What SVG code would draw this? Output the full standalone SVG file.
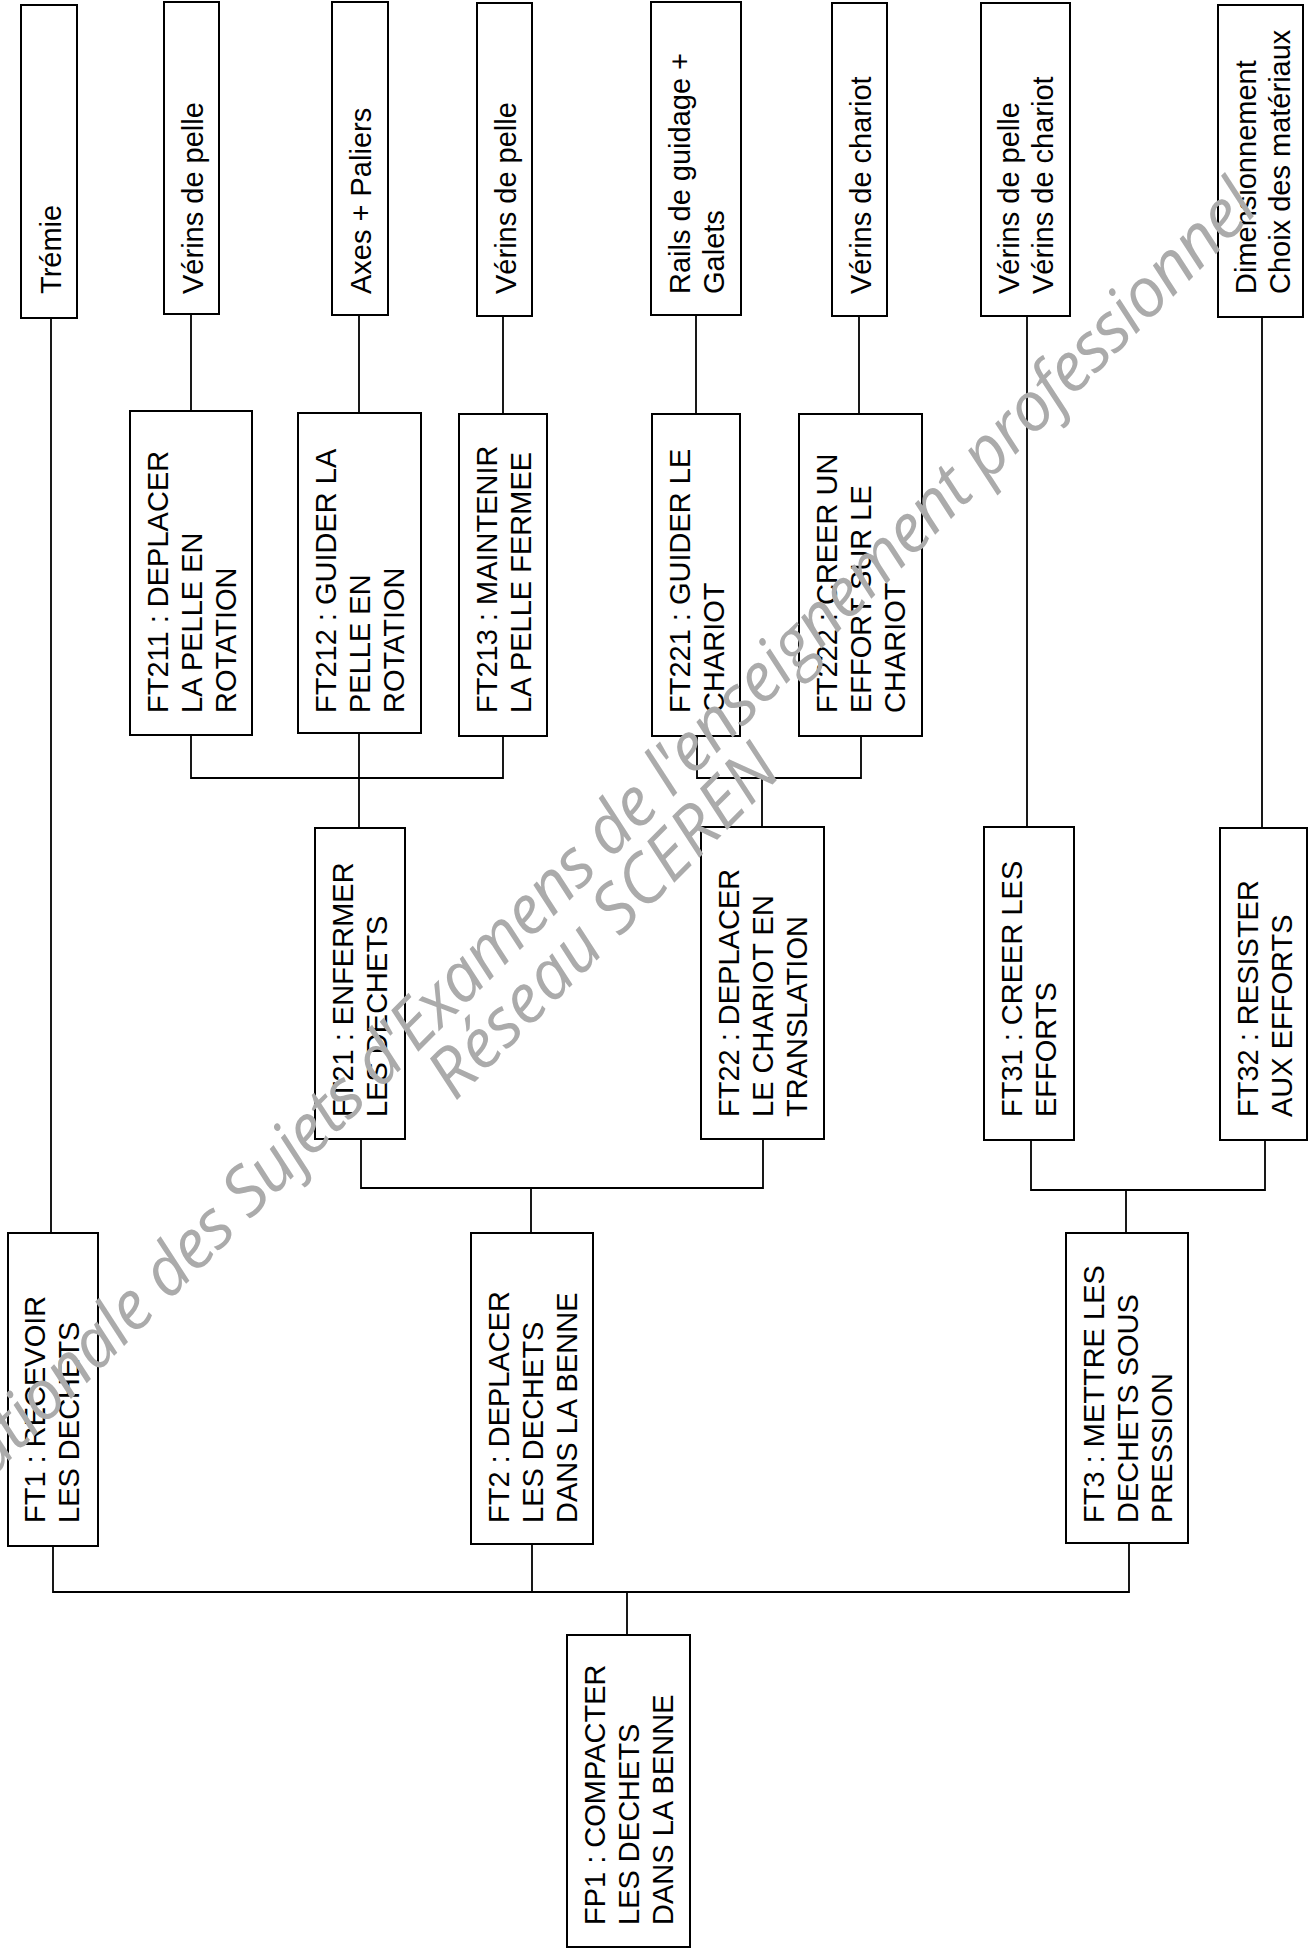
<svg xmlns="http://www.w3.org/2000/svg" width="1315" height="1952" viewBox="0 0 1315 1952">
<style>
.box{fill:none;stroke:#000;stroke-width:2}
.lbl{font-family:"Liberation Sans",Arial,sans-serif;font-size:29px;fill:#000}
.con{fill:none;stroke:#000;stroke-width:1.8}
.wm{font-family:"Open Sans","DejaVu Sans",sans-serif;font-style:italic;font-size:68px;fill:#ababab}
</style>
<rect x="0" y="0" width="1315" height="1952" fill="#fff"/>
<g id="connectors">
<path class="con" d="M51 318V1233M191 314V411M359 315V413M503 316V414M696 315V414M859 316V414M1027 316V827M1262 317V828"/>
<path class="con" d="M191 735V778H503V736M359 733V828"/>
<path class="con" d="M697 736V778H861V736M762 778V827"/>
<path class="con" d="M361 1139V1188H763V1139M531 1188V1233"/>
<path class="con" d="M1031 1140V1190H1265V1140M1126 1190V1233"/>
<path class="con" d="M53 1546V1592H1129V1543M532 1544V1592M627 1592V1635"/>
</g>
<g id="tremie"><rect class="box" x="21" y="5" width="56" height="313"/>
<text class="lbl" transform="translate(61,294) rotate(-90)"><tspan x="0" y="0">Trémie</tspan></text></g>
<g id="verins_pelle_1"><rect class="box" x="164" y="2" width="55" height="312"/>
<text class="lbl" transform="translate(203,294) rotate(-90)"><tspan x="0" y="0">Vérins de pelle</tspan></text></g>
<g id="axes_paliers"><rect class="box" x="332" y="2" width="56" height="313"/>
<text class="lbl" transform="translate(371,294) rotate(-90)"><tspan x="0" y="0">Axes + Paliers</tspan></text></g>
<g id="verins_pelle_2"><rect class="box" x="477" y="3" width="55" height="313"/>
<text class="lbl" transform="translate(516,294) rotate(-90)"><tspan x="0" y="0">Vérins de pelle</tspan></text></g>
<g id="rails"><rect class="box" x="651" y="2" width="90" height="313"/>
<text class="lbl" transform="translate(690,294) rotate(-90)"><tspan x="0" y="0">Rails de guidage +</tspan><tspan x="0" y="34">Galets</tspan></text></g>
<g id="verins_chariot"><rect class="box" x="832" y="3" width="55" height="313"/>
<text class="lbl" transform="translate(871,294) rotate(-90)"><tspan x="0" y="0">Vérins de chariot</tspan></text></g>
<g id="verins_pelle_chariot"><rect class="box" x="981" y="3" width="89" height="313"/>
<text class="lbl" transform="translate(1019,294) rotate(-90)"><tspan x="0" y="0">Vérins de pelle</tspan><tspan x="0" y="34">Vérins de chariot</tspan></text></g>
<g id="dimensionnement"><rect class="box" x="1218" y="5" width="85" height="312"/>
<text class="lbl" transform="translate(1256,294) rotate(-90)"><tspan x="0" y="0">Dimensionnement</tspan><tspan x="0" y="34">Choix des matériaux</tspan></text></g>
<g id="FT211"><rect class="box" x="130" y="411" width="122" height="324"/>
<text class="lbl" transform="translate(168,713) rotate(-90)"><tspan x="0" y="0">FT211 : DEPLACER</tspan><tspan x="0" y="34">LA PELLE EN</tspan><tspan x="0" y="68">ROTATION</tspan></text></g>
<g id="FT212"><rect class="box" x="298" y="413" width="123" height="320"/>
<text class="lbl" transform="translate(336,713) rotate(-90)"><tspan x="0" y="0">FT212 : GUIDER LA</tspan><tspan x="0" y="34">PELLE EN</tspan><tspan x="0" y="68">ROTATION</tspan></text></g>
<g id="FT213"><rect class="box" x="459" y="414" width="88" height="322"/>
<text class="lbl" transform="translate(497,713) rotate(-90)"><tspan x="0" y="0">FT213 : MAINTENIR</tspan><tspan x="0" y="34">LA PELLE FERMEE</tspan></text></g>
<g id="FT221"><rect class="box" x="652" y="414" width="88" height="322"/>
<text class="lbl" transform="translate(690,713) rotate(-90)"><tspan x="0" y="0">FT221 : GUIDER LE</tspan><tspan x="0" y="34">CHARIOT</tspan></text></g>
<g id="FT222"><rect class="box" x="799" y="414" width="123" height="322"/>
<text class="lbl" transform="translate(837,713) rotate(-90)"><tspan x="0" y="0">FT222 : CREER UN</tspan><tspan x="0" y="34">EFFORT SUR LE</tspan><tspan x="0" y="68">CHARIOT</tspan></text></g>
<g id="FT21"><rect class="box" x="315" y="828" width="90" height="311"/>
<text class="lbl" transform="translate(353,1117) rotate(-90)"><tspan x="0" y="0">FT21 : ENFERMER</tspan><tspan x="0" y="34">LES DECHETS</tspan></text></g>
<g id="FT22"><rect class="box" x="701" y="827" width="123" height="312"/>
<text class="lbl" transform="translate(739,1117) rotate(-90)"><tspan x="0" y="0">FT22 : DEPLACER</tspan><tspan x="0" y="34">LE CHARIOT EN</tspan><tspan x="0" y="68">TRANSLATION</tspan></text></g>
<g id="FT31"><rect class="box" x="984" y="827" width="90" height="313"/>
<text class="lbl" transform="translate(1022,1117) rotate(-90)"><tspan x="0" y="0">FT31 : CREER LES</tspan><tspan x="0" y="34">EFFORTS</tspan></text></g>
<g id="FT32"><rect class="box" x="1220" y="828" width="87" height="312"/>
<text class="lbl" transform="translate(1258,1117) rotate(-90)"><tspan x="0" y="0">FT32 : RESISTER</tspan><tspan x="0" y="34">AUX EFFORTS</tspan></text></g>
<g id="FT1"><rect class="box" x="8" y="1233" width="90" height="313"/>
<text class="lbl" transform="translate(45,1523) rotate(-90)"><tspan x="0" y="0">FT1 : RECEVOIR</tspan><tspan x="0" y="34">LES DECHETS</tspan></text></g>
<g id="FT2"><rect class="box" x="471" y="1233" width="122" height="311"/>
<text class="lbl" transform="translate(509,1523) rotate(-90)"><tspan x="0" y="0">FT2 : DEPLACER</tspan><tspan x="0" y="34">LES DECHETS</tspan><tspan x="0" y="68">DANS LA BENNE</tspan></text></g>
<g id="FT3"><rect class="box" x="1066" y="1233" width="122" height="310"/>
<text class="lbl" transform="translate(1104,1523) rotate(-90)"><tspan x="0" y="0">FT3 : METTRE LES</tspan><tspan x="0" y="34">DECHETS SOUS</tspan><tspan x="0" y="68">PRESSION</tspan></text></g>
<g id="FP1"><rect class="box" x="567" y="1635" width="123" height="312"/>
<text class="lbl" transform="translate(605,1925) rotate(-90)"><tspan x="0" y="0">FP1 : COMPACTER</tspan><tspan x="0" y="34">LES DECHETS</tspan><tspan x="0" y="68">DANS LA BENNE</tspan></text></g>
<g id="watermark">
<text class="wm" transform="translate(-150,1620) rotate(-45)" textLength="1995" lengthAdjust="spacing">Base Nationale des Sujets d'Examens de l'enseignement professionnel</text>
<text class="wm" transform="translate(455,1102) rotate(-45)" textLength="465" lengthAdjust="spacing">Réseau SCEREN</text>
</g>
</svg>
